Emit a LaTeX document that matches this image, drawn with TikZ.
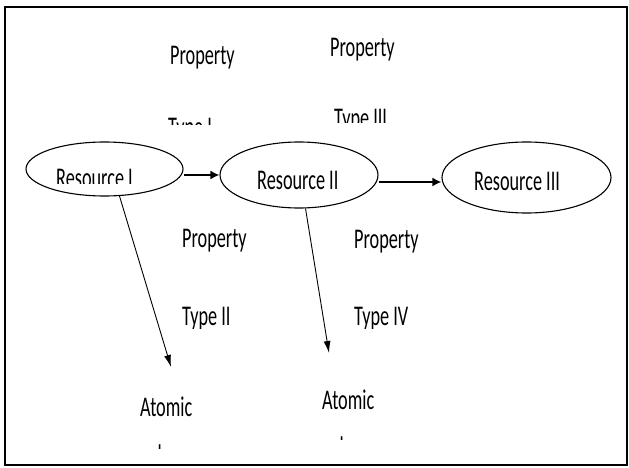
\documentclass[tikz,border=0pt]{standalone}
\usepackage{fontspec}
\newfontfamily\lblfont[FakeStretch=0.64]{Carlito}
\usetikzlibrary{shapes.geometric}
\usetikzlibrary{arrows.meta}

\begin{document}
\begin{tikzpicture}[x=1pt,y=-1pt,
      res/.style={draw,ellipse,line width=1.1pt,inner sep=0pt},
      lbl/.style={anchor=base west,inner sep=0pt,font={\lblfont\fontsize{28.5}{30}\selectfont}},
      outpt/.style={-{Latex[length=9pt,width=9pt]},line width=1.9pt},
      dnarr/.style={-{Latex[length=12pt,width=7pt]},line width=0.9pt}]
   \useasboundingbox (0,0) rectangle (629,468);
   \node (frame) at (316,236) [draw,line width=1.3pt,minimum width=622pt,minimum height=458pt,inner sep=0pt] {};
   %
      \node (res1) at (104.5,169) [res,minimum width=157pt,minimum height=54pt] {};
      \node (res2) at (299,175) [res,minimum width=158pt,minimum height=66pt] {};
      \node (res3) at (526.5,177.5) [res,minimum width=169pt,minimum height=71pt] {};
      \begin{scope}
         \clip (40,150) rectangle (170,183);
         \node (res1txt) at (56,187) [lbl] {Resource I};
      \end{scope}
      \node (res2txt) at (257,189.5) [lbl] {Resource II};
      \node (res3txt) at (474,190.5) [lbl] {Resource III};
      \draw[outpt] (res1.east |- res2.west) -- (res2.west);
      \draw[outpt] ([yshift=-7pt]res2.east) -- ([yshift=-7pt]res2.east -| res3.west);
   %
      % top property boxes
      \node (prop1) at (170,64.5) [lbl] {Property};
      \begin{scope}
         \clip (150,90) rectangle (260,125);
         \node (type1) at (168,136) [lbl] {Type I};
      \end{scope}
      \node (prop3) at (330,57) [lbl] {Property};
      \begin{scope}
         \clip (310,90) rectangle (420,123);
         \node (type3) at (334,128) [lbl] {Type III};
      \end{scope}
   %
      % lower property boxes
      \node (prop2) at (182,247) [lbl] {Property};
      \begin{scope}
         \clip (160,290) rectangle (270,328);
         \node (type2) at (182,325.5) [lbl] {Type II};
      \end{scope}
      \node (prop4) at (354,248) [lbl] {Property};
      \begin{scope}
         \clip (330,290) rectangle (440,328);
         \node (type4) at (354,325.5) [lbl] {Type IV};
      \end{scope}
   %
      \coordinate (tip1) at (171,367);
      \coordinate (tip2) at (329,353);
      \draw[dnarr] (res1.-61) -- (tip1);
      \draw[dnarr] (res2.-79) -- (tip2);
      \node (atom1) at (140,416) [lbl] {Atomic};
      \node (atom2) at (322,409) [lbl] {Atomic};
      \begin{scope}
         \clip (130,425) rectangle (210,448);
         \node (lit1) at (157.5,464) [lbl] {l};
      \end{scope}
      \begin{scope}
         \clip (310,420) rectangle (390,439);
         \node (lit2) at (339.5,456) [lbl] {l};
      \end{scope}
\end{tikzpicture}
\end{document}
